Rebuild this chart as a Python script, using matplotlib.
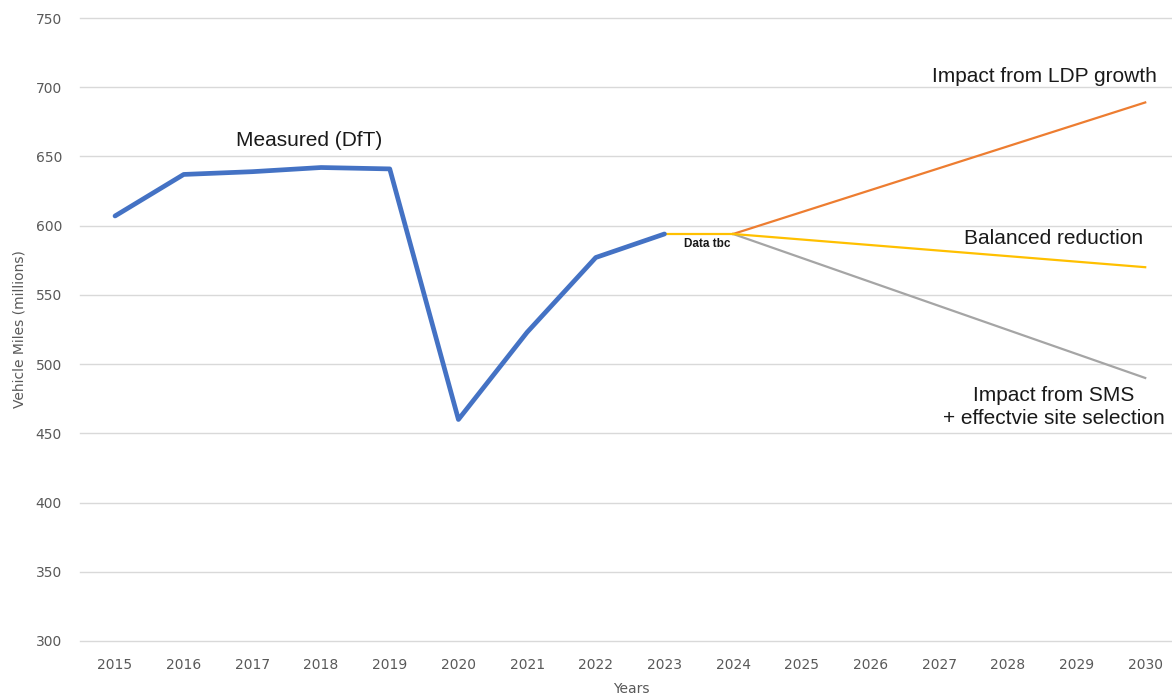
import matplotlib.pyplot as plt

# Measured vehicle miles (DfT)
years_measured = [2015, 2016, 2017, 2018, 2019, 2020, 2021, 2022, 2023]
miles_measured = [607, 637, 639, 642, 641, 460, 523, 577, 594]

# Data tbc segment and projections to 2030
years_tbc = [2023, 2024]
miles_tbc = [594, 594]
years_proj = [2024, 2030]
ldp_growth = [594, 689]
balanced = [594, 570]
sms_site = [594, 490]

year_ticks = list(range(2015, 2031))
y_ticks = list(range(300, 751, 50))

fig = plt.figure(figsize=(11.72, 6.99), dpi=100)
ax = fig.add_axes([80 / 1172, 58 / 699, 1092 / 1172, 623 / 699])

ax.plot(years_measured, miles_measured, color='#4472C4', linewidth=3.4,
        solid_capstyle='round', zorder=4)
ax.plot(years_proj, ldp_growth, color='#ED7D31', linewidth=1.6, zorder=3)
ax.plot(years_proj, sms_site, color='#A5A5A5', linewidth=1.6, zorder=3)
ax.plot(years_tbc, miles_tbc, color='#FFC000', linewidth=1.6, zorder=3)
ax.plot(years_proj, balanced, color='#FFC000', linewidth=1.6, zorder=3)

ax.set_xlim(2014.49, 2030.39)
ax.set_ylim(300, 750)
ax.set_xticks(year_ticks)
ax.set_yticks(y_ticks)
ax.grid(axis='y', color='#D9D9D9', linewidth=1)
for gl in ax.get_ygridlines():
    gl.set_clip_on(False)
ax.set_axisbelow(True)
for s in ax.spines.values():
    s.set_visible(False)
ax.tick_params(length=0, labelsize=10, labelcolor='#595959')
ax.tick_params(axis='y', pad=13)
ax.tick_params(axis='x', pad=12)

ax.set_xlabel('Years', fontsize=10, color='#595959')
ax.set_ylabel('Vehicle Miles (millions)', fontsize=10, color='#595959')
ax.xaxis.set_label_coords(0.505, -0.066)
ax.yaxis.set_label_coords(-0.049, 0.5)

# annotations
txt = dict(family='Liberation Sans', color='#1a1a1a')
ax.text(2017.82, 661.5, 'Measured (DfT)', fontsize=15, ha='center', va='center', **txt)
ax.text(2023.62, 587, 'Data tbc', fontsize=8.5, ha='center', va='center',
        fontweight='semibold', **txt)
ax.text(2030.17, 707.5, 'Impact from LDP growth', fontsize=15, ha='right', va='center', **txt)
ax.text(2028.66, 590.5, 'Balanced reduction', fontsize=15, ha='center', va='center', **txt)
ax.text(2028.67, 469, 'Impact from SMS\n+ effectvie site selection', fontsize=15,
        ha='center', va='center', linespacing=1.25, **txt)

fig.savefig('out.png', dpi=100)
